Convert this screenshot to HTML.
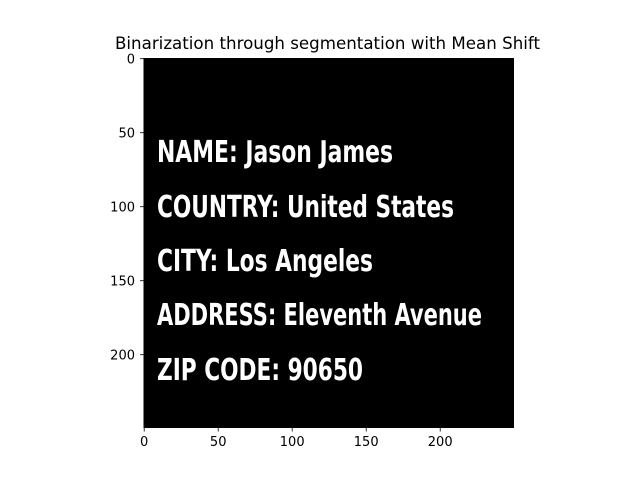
<!DOCTYPE html>
<html><head><style>html,body{margin:0;padding:0;background:#fff;}svg{display:block}</style></head>
<body>
<svg width="640" height="480" viewBox="0 0 640 480" xmlns="http://www.w3.org/2000/svg" font-family="'DejaVu Sans','Liberation Sans',sans-serif">
<rect width="640" height="480" fill="#fff"/>
<text x="115" y="49" font-size="16.5" fill="#000" textLength="425" lengthAdjust="spacingAndGlyphs">Binarization through segmentation with Mean Shift</text>
<rect x="143.5" y="58" width="370.5" height="370" fill="#000"/>
<g font-family="'Liberation Sans Narrow','DejaVu Sans Condensed','Liberation Sans',sans-serif" font-weight="bold" font-size="30" fill="#fff">
<text x="157" y="162" textLength="236" lengthAdjust="spacingAndGlyphs">NAME: Jason James</text>
<text x="157" y="217" textLength="297" lengthAdjust="spacingAndGlyphs">COUNTRY: United States</text>
<text x="157" y="271" textLength="216" lengthAdjust="spacingAndGlyphs">CITY: Los Angeles</text>
<text x="157" y="325" textLength="325" lengthAdjust="spacingAndGlyphs">ADDRESS: Eleventh Avenue</text>
<text x="157" y="380" textLength="206" lengthAdjust="spacingAndGlyphs">ZIP CODE: 90650</text>
</g>
<g stroke="#000" stroke-width="0.8">
<line x1="144.2" y1="428" x2="144.2" y2="431.5"/>
<line x1="218.2" y1="428" x2="218.2" y2="431.5"/>
<line x1="292.2" y1="428" x2="292.2" y2="431.5"/>
<line x1="366.2" y1="428" x2="366.2" y2="431.5"/>
<line x1="440.2" y1="428" x2="440.2" y2="431.5"/>
<line x1="143.5" y1="58.7" x2="140" y2="58.7"/>
<line x1="143.5" y1="132.7" x2="140" y2="132.7"/>
<line x1="143.5" y1="206.7" x2="140" y2="206.7"/>
<line x1="143.5" y1="280.7" x2="140" y2="280.7"/>
<line x1="143.5" y1="354.7" x2="140" y2="354.7"/>
</g>
<g font-size="13" fill="#000" text-anchor="middle">
<text x="144.2" y="446">0</text>
<text x="218.2" y="446">50</text>
<text x="292.2" y="446">100</text>
<text x="366.2" y="446">150</text>
<text x="440.2" y="446">200</text>
</g>
<g font-size="13" fill="#000" text-anchor="end">
<text x="135" y="63.5">0</text>
<text x="135" y="137.5">50</text>
<text x="135" y="211.5">100</text>
<text x="135" y="285.5">150</text>
<text x="135" y="359.5">200</text>
</g>
</svg>
</body></html>
